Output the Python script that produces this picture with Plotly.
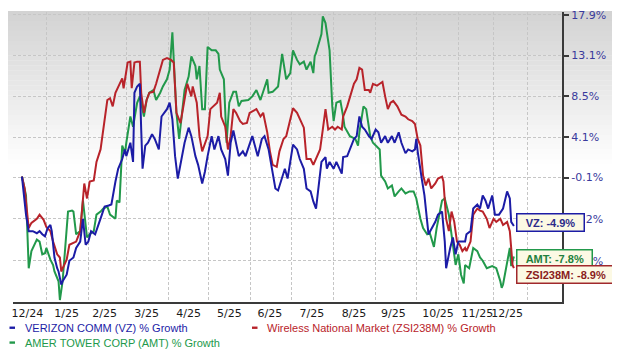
import math
import pandas as pd
import plotly.graph_objects as go

# ---------------- data (day offset from 2024-12-14, % growth) ----------------
START = pd.Timestamp("2024-12-14")

vz_days = [0, 2, 3, 5, 8, 11, 13, 15, 17, 19,
           21, 22, 23, 24, 26, 27, 29, 30, 33, 35,
           38, 40, 43, 45, 47, 49, 51, 54, 59, 61,
           64, 66, 69, 71, 74, 76, 77, 80, 82, 83,
           85, 87, 88, 89, 91, 93, 96, 98, 101, 103,
           107, 109, 111, 113, 115, 118, 120, 123, 125, 128,
           130, 133, 135, 137, 140, 142, 145, 147, 150, 152,
           154, 156, 160, 163, 165, 170, 174, 177, 179, 182,
           184, 187, 189, 192, 194, 196, 198, 200, 203, 205,
           208, 210, 213, 215, 217, 219, 221, 224, 225, 227,
           230, 232, 236, 237, 240, 245, 247, 249, 251, 253,
           256, 258, 261, 263, 265, 268, 270, 273, 275, 278,
           280, 283, 285, 288, 290, 291, 292, 295, 297, 300,
           305, 307, 310, 312, 313, 316, 318, 320, 322, 327,
           328, 331, 333, 336, 338, 340, 342, 344, 347, 349,
           352, 355, 358, 360, 361, 363]
vz_pct = [0, -2.4, -3.8, -5.4, -5.4, -5.6, -5.4, -5.7, -5.9, -5.1,
          -4.8, -5.4, -6.7, -7.9, -8.9, -9.2, -10.4, -10.1, -9.5, -8.2,
          -7.9, -7.0, -6.4, -4.2, -6.7, -6.4, -5.4, -5.7, -3.8, -3.0,
          -2.9, -2.8, -0.5, 0.8, 1.8, 2.8, 2.1, 3.5, 1.5, 8.9,
          9.6, 9.9, 4.9, 0.8, 3.2, 3.5, 4.4, 3.9, 2.8, 6.3,
          7.1, 7.8, 6.0, 2.1, -0.2, 2.1, 3.5, 5.1, 4.2, 2.1,
          1.2, -0.7, 0.5, 2.1, 4.2, 2.8, 4.2, 2.8, 1.8, 0.1,
          3.5, 4.8, 2.1, 2.6, 2.1, 4.2, 2.1, 3.9, 4.2, 2.8,
          1.2, -1.2, -1.4, -0.2, 0.8, -0.2, 1.5, 3.3, 2.8, 1.8,
          0.8, -1.2, -1.5, -2.5, -3.2, -0.9, 1.5, 2.0, 0.8, 1.5,
          0.8, 1.5, 0.3, 2.0, 2.1, 3.9, 4.2, 6.3, 5.2, 4.9,
          4.2, 3.9, 4.9, 4.6, 3.5, 4.2, 3.5, 4.2, 3.5, 4.6,
          3.5, 2.4, 2.8, 2.6, 2.8, 3.9, 2.6, -0.2, -1.9, -5.7,
          -4.5, -3.8, -3.5, -6.4, -8.9, -7.0, -6.0, -7.6, -6.4, -6.4,
          -5.7, -5.4, -3.2, -2.8, -3.2, -1.9, -2.4, -3.2, -1.9, -3.8,
          -3.8, -3.2, -1.5, -2.2, -4.5, -4.9]

zsi_days = [0, 2, 5, 7, 11, 13, 16, 18, 21, 23,
            26, 28, 29, 30, 33, 35, 38, 40, 43, 44,
            45, 46, 48, 50, 53, 55, 58, 60, 63, 65,
            67, 69, 71, 74, 75, 77, 78, 80, 81, 83,
            85, 87, 88, 90, 92, 94, 97, 99, 104, 107,
            110, 112, 113, 114, 117, 119, 122, 125, 126, 129,
            131, 133, 135, 137, 139, 144, 146, 147, 150, 152,
            154, 156, 158, 161, 163, 166, 168, 173, 176, 178,
            181, 183, 185, 188, 190, 193, 195, 198, 200, 203,
            205, 208, 210, 213, 215, 220, 222, 224, 226, 229,
            231, 233, 236, 237, 240, 242, 245, 247, 249, 251,
            253, 256, 257, 259, 262, 264, 266, 268, 270, 272,
            274, 277, 280, 283, 285, 288, 290, 292, 294, 296,
            298, 300, 302, 305, 307, 310, 311, 313, 315, 317,
            319, 321, 323, 325, 327, 328, 331, 333, 336, 338,
            340, 343, 345, 348, 350, 353, 355, 358, 360, 361,
            362, 363]
zsi_pct = [0, -1.2, -5.1, -4.6, -4.2, -3.8, -4.3, -5.0, -5.4, -6.4,
           -7.6, -7.9, -9.2, -8.9, -8.1, -6.7, -6.5, -6.4, -5.4, -3.8,
           -2.4, -0.7, -2.2, -0.5, -0.4, 1.5, 2.8, 4.9, 8.1, 8.3,
           7.4, 8.9, 9.6, 10.5, 9.4, 11.1, 12.3, 12.4, 9.4, 12.3,
           12.4, 12.4, 8.9, 6.7, 8.1, 8.9, 9.0, 9.9, 12.6, 12.8,
           12.6, 12.3, 8.5, 6.7, 5.6, 7.4, 9.9, 8.5, 9.6, 7.8,
           4.2, 2.6, 3.5, 4.2, 7.1, 7.8, 8.9, 6.3, 5.2, 2.8,
           4.2, 7.1, 6.7, 5.8, 5.5, 5.6, 6.7, 7.1, 6.3, 6.7,
           4.6, 2.6, 1.2, 1.0, 2.6, 3.9, 4.2, 6.0, 7.2, 6.7,
           6.1, 5.1, 1.8, 1.8, 1.2, 2.8, 4.9, 7.1, 4.9, 5.2,
           4.9, 5.2, 4.9, 6.3, 7.4, 8.3, 9.9, 10.4, 11.7, 11.5,
           9.2, 9.2, 8.9, 9.9, 9.7, 9.9, 10.1, 8.5, 7.1, 7.8,
           8.0, 7.4, 6.5, 6.3, 6.0, 5.8, 5.5, 3.9, 3.2, 0.1,
           -0.9, -0.2, -1.2, -0.7, -0.2, 0.0, -0.5, -4.2, -5.4, -3.5,
           -4.5, -6.4, -6.7, -7.3, -7.0, -7.3, -6.4, -3.8, -3.2, -3.4,
           -3.5, -4.2, -5.1, -4.2, -4.5, -4.2, -4.8, -4.5, -5.4, -7.0,
           -8.6, -8.9]

amt_days = [0, 3, 5, 7, 11, 13, 15, 17, 18, 21,
            23, 24, 27, 28, 30, 34, 37, 38, 40, 43,
            45, 48, 50, 53, 55, 58, 60, 63, 65, 69,
            70, 72, 74, 76, 77, 80, 82, 85, 87, 90,
            92, 94, 97, 99, 102, 104, 107, 108, 109, 111,
            112, 114, 116, 118, 120, 123, 125, 128, 129, 131,
            133, 135, 137, 140, 143, 145, 146, 149, 151, 153,
            156, 158, 160, 162, 167, 170, 173, 176, 181, 182,
            185, 189, 192, 195, 198, 200, 203, 205, 208, 210,
            213, 215, 216, 217, 219, 221, 222, 224, 225, 227,
            229, 230, 232, 235, 237, 238, 242, 246, 248, 249,
            252, 254, 257, 259, 264, 265, 268, 270, 273, 275,
            278, 280, 283, 286, 289, 291, 294, 296, 299, 301,
            304, 306, 310, 312, 315, 317, 320, 322, 324, 326,
            327, 330, 333, 336, 338, 340, 343, 347, 350, 353,
            354, 355, 358, 360, 361, 363]
amt_pct = [0, -1.9, -8.9, -7.3, -6.2, -6.4, -7.6, -7.5, -7.0, -8.1,
           -8.6, -9.2, -10.1, -11.8, -10.1, -3.5, -3.4, -3.5, -5.7, -5.4,
           -2.4, -6.0, -5.7, -5.4, -3.8, -3.5, -3.2, -3.0, -3.8, -4.2,
           -2.4, -2.6, 3.2, 2.4, 3.5, 6.3, 5.2, 7.8, 8.5, 6.3,
           8.1, 8.9, 9.2, 8.1, 8.9, 9.6, 10.4, 11.1, 11.5, 15.8,
           13.0, 6.7, 3.9, 6.3, 9.2, 10.7, 13.0, 11.9, 10.4, 11.9,
           7.1, 7.1, 14.1, 13.7, 13.7, 13.3, 11.5, 10.4, 3.5, 7.8,
           9.0, 9.0, 7.4, 8.0, 8.1, 8.5, 9.2, 8.1, 10.4, 8.9,
           9.0, 9.6, 13.3, 10.4, 11.1, 13.7, 12.6, 12.1, 12.4, 11.5,
           12.4, 11.1, 13.0, 13.4, 14.6, 15.6, 17.7, 16.9, 15.8, 13.7,
           7.4, 5.8, 7.8, 8.0, 6.3, 5.2, 4.2, 3.9, 3.2, 4.6,
           7.4, 7.1, 4.2, 3.5, 2.8, 0.1, -0.5, -1.2, -0.9, -2.0,
           -1.5, -1.2, -1.7, -1.5, -1.5, -2.2, -4.2, -5.1, -5.7, -5.6,
           -6.9, -5.1, -2.4, -2.2, -3.8, -5.7, -8.6, -7.6, -9.5, -10.3,
           -8.6, -8.9, -7.0, -7.3, -7.9, -8.2, -8.9, -8.7, -8.9, -10.1,
           -10.7, -10.4, -8.2, -7.0, -8.7, -7.8]

series_names = ["VERIZON COMM (VZ) % Growth",
                "Wireless National Market (ZSI238M) % Growth",
                "AMER TOWER CORP (AMT) % Growth"]
series_tags = ["VZ", "ZSI238M", "AMT"]

x_tick_dates = ["2024-12-18", "2025-01-16", "2025-02-13", "2025-03-16", "2025-04-16",
                "2025-05-16", "2025-06-15", "2025-07-16", "2025-08-16", "2025-09-14",
                "2025-10-17", "2025-11-15", "2025-12-07"]
x_tick_text = ["12/24", "1/25", "2/25", "3/25", "4/25", "5/25", "6/25",
               "7/25", "8/25", "9/25", "10/25", "11/25", "12/25"]
x_grid_dates = ["2025-01-01", "2025-02-01", "2025-03-01", "2025-04-01", "2025-05-01",
                "2025-06-01", "2025-07-01", "2025-08-01", "2025-09-01", "2025-10-01",
                "2025-11-01", "2025-11-27", "2025-12-22"]
y_tick_pct = [17.9, 13.1, 8.5, 4.1, -0.1, -4.2, -8.2]

# ---------------- styling ----------------
BLUE, RED, GREEN = "#1c1ca6", "#b8232a", "#22994b"
OFF = 8                      # page body margin the figure sits inside
SW, SH = 620, 357            # screen size
W, H = SW - OFF, SH - OFF    # figure size
L, R, T, B = 13 - OFF, 58, 9 - OFF, 55
PW, PH = W - L - R, H - T - B


def px_x(p):   # screen pixel -> paper x
    return (p - OFF - L) / PW


def px_y(p):   # screen pixel -> paper y
    return (H - B - (p - OFF)) / PH


def to_dates(days):
    return START + pd.to_timedelta(days, unit="D")


def to_ratio(pcts):
    return [1 + v / 100 for v in pcts]


fig = go.Figure()
order = [(amt_days, amt_pct, GREEN, series_names[2]),
         (zsi_days, zsi_pct, RED, series_names[1]),
         (vz_days, vz_pct, BLUE, series_names[0])]
for d, p, c, n in order:
    fig.add_trace(go.Scatter(x=to_dates(d), y=to_ratio(p), mode="lines", name=n,
                             line=dict(color=c, width=2), showlegend=False))

shapes = []
# background gradient (top grey fading to white)
N = 32
for i in range(N):
    y0 = OFF + i * 5
    t = min(1.0, (y0 + 2.5) / 165)
    v = int(round(208 + (255 - 208) * t))
    shapes.append(dict(type="rect", xref="paper", yref="paper",
                       x0=px_x(OFF), x1=px_x(SW), y0=px_y(y0 + 5.3), y1=px_y(y0),
                       fillcolor=f"rgb({v},{v},{v})", line=dict(width=0), layer="below"))

annotations = []
# legend
legend_items = [(series_names[0], BLUE, 9.5, 22.5, 328),
                (series_names[1], RED, 252, 265, 328),
                (series_names[2], GREEN, 9.5, 22.5, 343)]
for name, col, mx, tx, ty in legend_items:
    shapes.append(dict(type="rect", xref="paper", yref="paper",
                       x0=px_x(mx), x1=px_x(mx + 5.5), y0=px_y(ty + 1.2), y1=px_y(ty - 1.2),
                       fillcolor=col, line=dict(width=0)))
    annotations.append(dict(xref="paper", yref="paper", x=px_x(tx), y=px_y(ty),
                            xanchor="left", yanchor="middle", showarrow=False, text=name,
                            font=dict(family="Liberation Sans, Arial", size=11, color=col)))

# end-value tags (box + small left-pointing notch)
TAG_BG = "#fcf9e4"
PADS = "&nbsp;&nbsp;"
tag_specs = [(series_tags[0], vz_days, vz_pct, BLUE, "#2a2a8a", 3),
             (series_tags[2], amt_days, amt_pct, GREEN, "#23803c", -2),
             (series_tags[1], zsi_days, zsi_pct, "#a0282c", "#8a1c1c", -6)]
for tag, d, p, border, tcol, ys in tag_specs:
    xd = to_dates([d[-1]])[0]
    yl = math.log10(1 + p[-1] / 100)
    shapes.append(dict(type="path", xref="x", yref="y", xsizemode="pixel", ysizemode="pixel",
                       xanchor=xd, yanchor=yl,
                       path=f"M -2,{ys} L 4,{ys + 6} L 4,{ys - 6} Z",
                       fillcolor=TAG_BG, line=dict(color=border, width=1.3), layer="above"))
    annotations.append(dict(xref="x", yref="y", x=xd, y=yl,
                            xanchor="left", yanchor="middle", showarrow=False,
                            xshift=2, yshift=ys,
                            text=f"{PADS}<b>{tag}: {p[-1]:.1f}%</b>{PADS}",
                            font=dict(family="Liberation Sans, Arial", size=11, color=tcol),
                            bgcolor=TAG_BG, bordercolor=border, borderwidth=1.5, borderpad=2))

fig.update_layout(
    width=W, height=H,
    margin=dict(l=L, r=R, t=T, b=B, pad=0),
    paper_bgcolor="white", plot_bgcolor="rgba(0,0,0,0)",
    showlegend=False,
    font=dict(family="DejaVu Sans", size=11),
    shapes=shapes, annotations=annotations,
    xaxis=dict(type="date",
               range=[START - pd.Timedelta(days=6.6), START + pd.Timedelta(days=398.5)],
               tickmode="array", tickvals=x_tick_dates, ticktext=x_tick_text,
               tickangle=0,
               showgrid=False, ticks="", zeroline=False,
               showline=True, linecolor="#3a3a3a", linewidth=2,
               tickfont=dict(family="DejaVu Sans", size=11, color="#1a1a1a"),
               minor=dict(tickmode="array", tickvals=x_grid_dates, showgrid=True,
                          gridcolor="#c6c6c6", griddash="3px,2px", gridwidth=1, ticks="")),
    yaxis=dict(type="log", side="right",
               range=[-0.0554, 0.0727],
               tickmode="array", tickvals=[1 + v / 100 for v in y_tick_pct],
               ticktext=[f"{v:.1f}%" for v in y_tick_pct],
               ticklabeloverflow="allow",
               showgrid=True, gridcolor="#c6c6c6", griddash="3px,2px", gridwidth=1,
               ticks="outside", ticklen=5, tickcolor="#3a3a3a", tickwidth=1.5,
               showline=True, linecolor="#3a3a3a", linewidth=2, zeroline=False,
               tickfont=dict(family="DejaVu Sans", size=11, color="#3a3a9c")),
)

fig.write_html("out.html")
